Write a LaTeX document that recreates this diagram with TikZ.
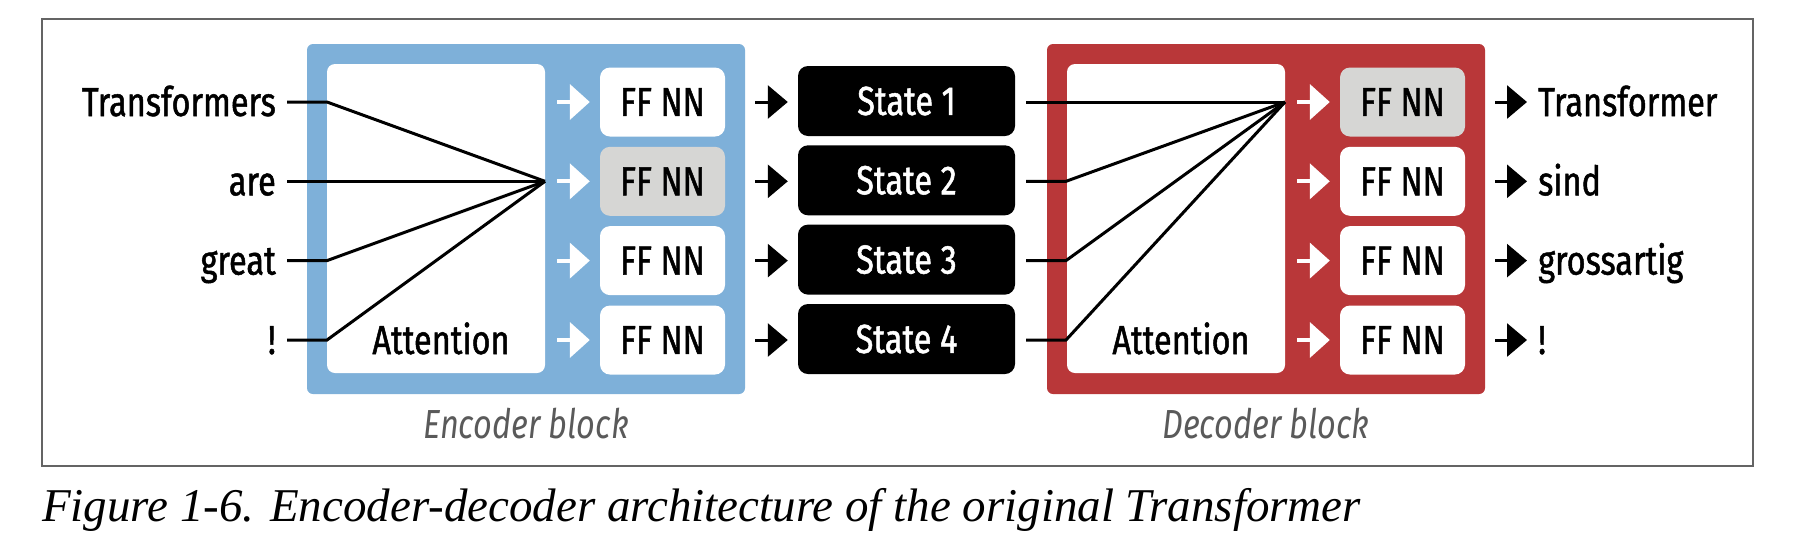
\documentclass[tikz,border=0pt]{standalone}
\usepackage{fontspec}
\usetikzlibrary{arrows.meta,calc}
\newfontfamily\diagfont{Fira Sans}[FakeStretch=0.8,FakeBold=1.2]
\newfontfamily\labfont{Fira Sans}[FakeStretch=0.8]
\newfontfamily\capfont{Liberation Serif}
\definecolor{encblue}{RGB}{126,176,217}
\definecolor{decred}{RGB}{185,55,57}
\definecolor{ffgrey}{RGB}{214,214,212}
\definecolor{framegrey}{RGB}{100,100,100}
\definecolor{labelgrey}{RGB}{90,90,90}
\begin{document}
\begin{tikzpicture}[x=1pt,y=-1pt,
  every node/.style={font=\diagfont\fontsize{40.6}{48}\selectfont},
  blk/.style={draw=none, rounded corners=6pt, inner sep=0pt, minimum width=438pt, minimum height=350pt},
  attbox/.style={fill=white, rounded corners=8pt, inner sep=0pt, minimum width=218pt, minimum height=309pt},
  ffbox/.style={fill=white, rounded corners=10pt, inner sep=0pt, minimum width=125pt, minimum height=69pt},
  ffhi/.style={ffbox, fill=ffgrey},
  statebox/.style={fill=black, text=white, rounded corners=10pt, inner sep=0pt, minimum width=217pt, minimum height=70pt},
  word/.style={inner sep=0pt},
  conn/.style={line width=3pt, black},
  warrow/.style={line width=4pt, white, -{Triangle[length=20pt,width=35pt]}},
  barrow/.style={line width=3pt, black, -{Triangle[length=20pt,width=33pt]}},
  blocklabel/.style={font=\labfont\itshape\fontsize{40.6}{48}\selectfont, text=labelgrey, inner sep=0pt},
]
\useasboundingbox (0,0) rectangle (1794,550);
\draw[line width=2pt, framegrey] (42,19) rectangle (1753,466);

% encoder block
\node[blk, fill=encblue] (enc) at (526,219) {};
\node[attbox] (encatt) at (436,218.5) {};
\node[word, anchor=base] (encattl) at (441,354) {Attention};
\node[ffbox] (ef1) at (662.5,102) {FF NN};
\node[ffhi]  (ef2) at (662.5,181.3) {FF NN};
\node[ffbox] (ef3) at (662.5,260.6) {FF NN};
\node[ffbox] (ef4) at (662.5,340) {FF NN};
\node[blocklabel, anchor=base] (enclab) at (526,438) {Encoder block};

% input words
\node[word, anchor=base east] (w1) at (276,116) {Transformers};
\node[word, anchor=base east] (w2) at (276,195.3) {are};
\node[word, anchor=base east] (w3) at (276,274.6) {great};
\node[word, anchor=base east] (w4) at (276,354) {!};
\coordinate (econv) at (545,181.3);
\coordinate (ei1) at (327,102);
\coordinate (ei2) at (327,181.3);
\coordinate (ei3) at (327,260.6);
\coordinate (ei4) at (327,340);
\draw[conn] ($(w1.base east)+(11,-14)$) -- (ei1) -- (econv);
\draw[conn] ($(w2.base east)+(11,-14)$) -- (ei2) -- (econv);
\draw[conn] ($(w3.base east)+(11,-14)$) -- (ei3) -- (econv);
\draw[conn] ($(w4.base east)+(11,-14)$) -- (ei4) -- (econv);

% white arrows encoder
\foreach \n in {ef1,ef2,ef3,ef4}{
  \draw[warrow] ($(encatt.east |- \n)+(12,0)$) -- ($(\n.west)+(-10,0)$);
}

% states
\node[statebox] (s1) at (906.5,101) {State 1};
\node[statebox] (s2) at (906.5,180.3) {State 2};
\node[statebox] (s3) at (906.5,259.6) {State 3};
\node[statebox] (s4) at (906.5,339) {State 4};
\draw[barrow] ($(ef1.east)+(30,0)$) -- ($(s1.west |- ef1)+(-10,0)$);
\draw[barrow] ($(ef2.east)+(30,0)$) -- ($(s2.west |- ef2)+(-10,0)$);
\draw[barrow] ($(ef3.east)+(30,0)$) -- ($(s3.west |- ef3)+(-10,0)$);
\draw[barrow] ($(ef4.east)+(30,0)$) -- ($(s4.west |- ef4)+(-10,0)$);

% decoder block
\node[blk, fill=decred] (dec) at (1266,219) {};
\node[attbox] (decatt) at (1176,218.5) {};
\node[word, anchor=base] (decattl) at (1181,354) {Attention};
\node[ffhi]  (df1) at (1402.5,102) {FF NN};
\node[ffbox] (df2) at (1402.5,181.3) {FF NN};
\node[ffbox] (df3) at (1402.5,260.6) {FF NN};
\node[ffbox] (df4) at (1402.5,340) {FF NN};
\node[blocklabel, anchor=base] (declab) at (1266,438) {Decoder block};

\coordinate (dconv) at (1285,102);
\coordinate (di1) at (1066,102);
\coordinate (di2) at (1066,181.3);
\coordinate (di3) at (1066,260.6);
\coordinate (di4) at (1066,340);
\draw[conn] ($(s1.east |- di1)+(11,0)$) -- (di1) -- (dconv);
\draw[conn] ($(s2.east |- di2)+(11,0)$) -- (di2) -- (dconv);
\draw[conn] ($(s3.east |- di3)+(11,0)$) -- (di3) -- (dconv);
\draw[conn] ($(s4.east |- di4)+(11,0)$) -- (di4) -- (dconv);

\foreach \n in {df1,df2,df3,df4}{
  \draw[warrow] ($(decatt.east |- \n)+(12,0)$) -- ($(\n.west)+(-10,0)$);
}

% outputs
\node[word, anchor=base west] (o1) at (1538,116) {Transformer};
\node[word, anchor=base west] (o2) at (1538,195.3) {sind};
\node[word, anchor=base west] (o3) at (1538,274.6) {grossartig};
\node[word, anchor=base west] (o4) at (1538,354) {!};
\draw[barrow] ($(df1.east)+(30,0)$) -- ($(o1.base west)+(-11,-14)$);
\draw[barrow] ($(df2.east)+(30,0)$) -- ($(o2.base west)+(-11,-14)$);
\draw[barrow] ($(df3.east)+(30,0)$) -- ($(o3.base west)+(-11,-14)$);
\draw[barrow] ($(df4.east)+(30,0)$) -- ($(o4.base west)+(-11,-14)$);

% caption
\node[anchor=base west, inner sep=0pt, font=\capfont\itshape\fontsize{47}{56}\selectfont] (cap) at (42,521) {Figure 1-6. Encoder-decoder architecture of the original Transformer};
\end{tikzpicture}
\end{document}
